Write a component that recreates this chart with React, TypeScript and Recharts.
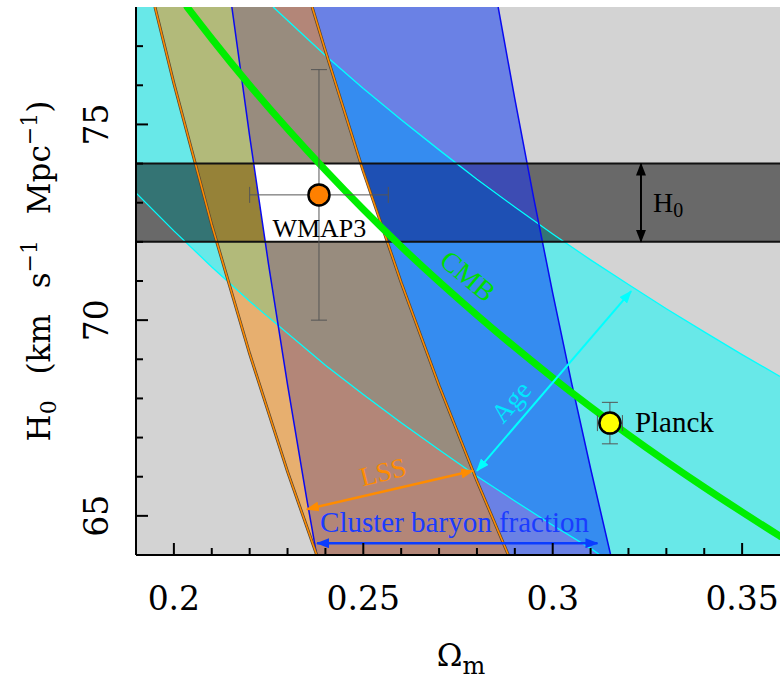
import React from 'react';
import { ComposedChart, Area, Line, Scatter, XAxis, YAxis, ErrorBar } from 'recharts';

document.body.style.margin = '0';

// axis ticks
const xTicks = [0.2, 0.21, 0.22, 0.23, 0.24, 0.25, 0.26, 0.27, 0.28, 0.29, 0.3, 0.31, 0.32, 0.33, 0.34, 0.35];
const xMajorTicks = [0.2, 0.25, 0.3, 0.35];
const yTicks = [65, 66, 67, 68, 69, 70, 71, 72, 73, 74, 75, 76, 77];
const yMajorTicks = [65, 70, 75];

// whole plot background
const plotBox = [
  { x: 0.19, r: [64, 78] },
  { x: 0.36, r: [64, 78] },
];

// age constraint (cyan)
const ageLower = [
  { x: 0.19, h: 73.25 }, { x: 0.2, h: 72.28 }, { x: 0.21, h: 71.36 }, { x: 0.22, h: 70.48 },
  { x: 0.24, h: 68.85 }, { x: 0.25, h: 68.1 }, { x: 0.26, h: 67.38 }, { x: 0.27, h: 66.69 },
  { x: 0.28, h: 66.01 }, { x: 0.29, h: 65.38 }, { x: 0.3, h: 64.76 }, { x: 0.31, h: 64.17 },
  { x: 0.3125, h: 64.0 },
];
const ageUpper = [
  { x: 0.2262, h: 78 }, { x: 0.24, h: 76.76 }, { x: 0.25, h: 75.92 }, { x: 0.26, h: 75.12 },
  { x: 0.27, h: 74.35 }, { x: 0.28, h: 73.6 }, { x: 0.29, h: 72.89 }, { x: 0.3, h: 72.2 },
  { x: 0.31, h: 71.54 }, { x: 0.32, h: 70.91 }, { x: 0.33, h: 70.29 }, { x: 0.34, h: 69.7 },
  { x: 0.35, h: 69.12 }, { x: 0.36, h: 68.56 },
];
const ageBand = [
  { x: 0.19, r: [73.25, 78] }, { x: 0.2, r: [72.28, 78] }, { x: 0.21, r: [71.36, 78] },
  { x: 0.22, r: [70.48, 78] }, { x: 0.2262, r: [69.96, 78] }, { x: 0.24, r: [68.85, 76.76] },
  { x: 0.25, r: [68.1, 75.92] }, { x: 0.26, r: [67.38, 75.12] }, { x: 0.27, r: [66.69, 74.35] },
  { x: 0.28, r: [66.01, 73.6] }, { x: 0.29, r: [65.38, 72.89] }, { x: 0.3, r: [64.76, 72.2] },
  { x: 0.31, r: [64.17, 71.54] }, { x: 0.3125, r: [64, 71.38] }, { x: 0.32, r: [64, 70.91] },
  { x: 0.33, r: [64, 70.29] }, { x: 0.34, r: [64, 69.7] }, { x: 0.35, r: [64, 69.12] },
  { x: 0.36, r: [64, 68.56] },
];

// cluster baryon fraction (blue)
const clusterLeft = [
  { x: 0.2153, h: 78 }, { x: 0.22, h: 74.7 }, { x: 0.225, h: 71.42 }, { x: 0.23, h: 68.35 },
  { x: 0.235, h: 65.47 }, { x: 0.2377, h: 64 },
];
const clusterRight = [
  { x: 0.2856, h: 78 }, { x: 0.29, h: 75.65 }, { x: 0.295, h: 73.11 }, { x: 0.3, h: 70.69 },
  { x: 0.305, h: 68.39 }, { x: 0.31, h: 66.21 }, { x: 0.3153, h: 64 },
];
const clusterBand = [
  { x: 0.2153, r: [78, 78] }, { x: 0.22, r: [74.7, 78] }, { x: 0.225, r: [71.42, 78] },
  { x: 0.23, r: [68.35, 78] }, { x: 0.235, r: [65.47, 78] }, { x: 0.2377, r: [64, 78] },
  { x: 0.2856, r: [64, 78] }, { x: 0.29, r: [64, 75.65] }, { x: 0.295, r: [64, 73.11] },
  { x: 0.3, r: [64, 70.69] }, { x: 0.305, r: [64, 68.39] }, { x: 0.31, r: [64, 66.21] },
  { x: 0.3153, r: [64, 64] },
];

// large scale structure (orange)
const lssLeft = [
  { x: 0.195, h: 78 }, { x: 0.2, h: 76.05 }, { x: 0.21, h: 72.43 }, { x: 0.22, h: 69.14 },
  { x: 0.23, h: 66.13 }, { x: 0.2377, h: 64 },
];
const lssRight = [
  { x: 0.2365, h: 78 }, { x: 0.24, h: 76.88 }, { x: 0.25, h: 73.8 }, { x: 0.26, h: 70.96 },
  { x: 0.27, h: 68.33 }, { x: 0.28, h: 65.89 }, { x: 0.2883, h: 64 },
];
const lssBand = [
  { x: 0.195, r: [78, 78] }, { x: 0.2, r: [76.05, 78] }, { x: 0.21, r: [72.43, 78] },
  { x: 0.22, r: [69.14, 78] }, { x: 0.23, r: [66.13, 78] }, { x: 0.2365, r: [64.31, 78] },
  { x: 0.2377, r: [64, 77.62] }, { x: 0.24, r: [64, 76.88] }, { x: 0.25, r: [64, 73.8] },
  { x: 0.26, r: [64, 70.96] }, { x: 0.27, r: [64, 68.33] }, { x: 0.28, r: [64, 65.89] },
  { x: 0.2883, r: [64, 64] },
];

// H0 band
const h0Band = [
  { x: 0.19, r: [72, 74] },
  { x: 0.36, r: [72, 74] },
];
const h0Top = [{ x: 0.19, h: 74 }, { x: 0.36, h: 74 }];
const h0Bottom = [{ x: 0.19, h: 72 }, { x: 0.36, h: 72 }];
const h0Olive = [
  { x: 0.2055, r: [74, 74] }, { x: 0.2113, r: [72, 74] }, { x: 0.221, r: [72, 74] }, { x: 0.2241, r: [72, 72] },
];
const h0White = [
  { x: 0.221, r: [74, 74] }, { x: 0.2241, r: [72, 74] }, { x: 0.2493, r: [72, 74] }, { x: 0.2563, r: [72, 72] },
];
const h0Blue = [
  { x: 0.2493, r: [74, 74] }, { x: 0.2563, r: [72, 74] }, { x: 0.2747, r: [72, 74] },
  { x: 0.2964, r: [72, 72.45] }, { x: 0.2973, r: [72, 72] },
];
const h0Violet = [
  { x: 0.2747, r: [74, 74] }, { x: 0.2932, r: [72.68, 74] }, { x: 0.2964, r: [72.45, 72.45] },
];

// CMB degeneracy
const cmbLine = [
  { x: 0.2035, h: 78 }, { x: 0.21, h: 77.19 }, { x: 0.22, h: 76.0 }, { x: 0.24, h: 73.83 },
  { x: 0.26, h: 71.88 }, { x: 0.28, h: 70.13 }, { x: 0.3, h: 68.53 }, { x: 0.32, h: 67.07 },
  { x: 0.34, h: 65.73 }, { x: 0.36, h: 64.48 },
];

// measurements
const wmap3 = [{ x: 0.2383, y: 73.2, ex: 0.0183, ey: 3.2 }];
const planck = [{ x: 0.3151, y: 67.37, ex: 0.0033, ey: 0.53 }];

// arrows
const h0Arrow = [{ x: 0.3233, h: 74 }, { x: 0.3233, h: 72 }];
const ageArrow = [{ x: 0.28, h: 66.15 }, { x: 0.3207, h: 70.74 }];
const lssArrow = [{ x: 0.2351, h: 65.17 }, { x: 0.279, h: 66.15 }];
const clusterArrow = [{ x: 0.2378, h: 64.3 }, { x: 0.3118, h: 64.3 }];

// annotations
const labels = [
  { x: 0.2384, y: 72.12, text: 'WMAP3', kind: 'wmap' },
  { x: 0.3217, y: 67.14, text: 'Planck', kind: 'planck' },
  { x: 0.3265, y: 72.76, text: 'H', kind: 'h0' },
  { x: 0.2776, y: 71.13, text: 'CMB', kind: 'cmb' },
  { x: 0.289, y: 67.91, text: 'Age', kind: 'age' },
  { x: 0.2552, y: 66.12, text: 'LSS', kind: 'lss' },
  { x: 0.2386, y: 64.59, text: 'Cluster baryon fraction', kind: 'cluster' },
];

const SERIF = '"Liberation Serif", "Times New Roman", serif';
const SCHOOL = '"DejaVu Serif", serif';

const labelStyles: Record<string, any> = {
  wmap: { fill: '#000', size: 26, anchor: 'middle', rotate: 0 },
  planck: { fill: '#000', size: 29, anchor: 'start', rotate: 0 },
  h0: { fill: '#000', size: 28, anchor: 'start', rotate: 0, sub: '0' },
  cmb: { fill: '#00dd00', size: 28, anchor: 'middle', rotate: 40, central: true },
  age: { fill: '#00e8ff', size: 27, anchor: 'middle', rotate: -49, central: true },
  lss: { fill: '#ff8c00', size: 27, anchor: 'middle', rotate: -14, central: true },
  cluster: { fill: '#1a3cff', size: 29, anchor: 'start', rotate: 0 },
};

const isMajor = (v: number, majors: number[]) => majors.some((m) => Math.abs(m - v) < 1e-6);
const tickFont = { fontFamily: SCHOOL, fontSize: 33, fill: '#000' };

const BottomTick = ({ x, y, payload }: any) => {
  const major = isMajor(payload.value, xMajorTicks);
  return (
    <g>
      <line x1={x} x2={x} y1={y} y2={y - (major ? 12 : 7)} stroke="#000" strokeWidth={2} />
      {major && (
        <text x={x} y={y + 55} textAnchor="middle" {...tickFont}>
          {String(payload.value)}
        </text>
      )}
    </g>
  );
};

const TopTick = ({ x, y, payload }: any) => {
  const major = isMajor(payload.value, xMajorTicks);
  return <line x1={x} x2={x} y1={y} y2={y + (major ? 12 : 7)} stroke="#000" strokeWidth={2} />;
};

const LeftTick = ({ x, y, payload }: any) => {
  const major = isMajor(payload.value, yMajorTicks);
  return (
    <g>
      <line x1={x} x2={x + (major ? 12 : 7)} y1={y} y2={y} stroke="#000" strokeWidth={2} />
      {major && (
        <text x={x - 28} y={y} textAnchor="middle" transform={`rotate(-90 ${x - 28} ${y})`} {...tickFont}>
          {String(payload.value)}
        </text>
      )}
    </g>
  );
};

const RightTick = ({ x, y, payload }: any) => {
  const major = isMajor(payload.value, yMajorTicks);
  return <line x1={x} x2={x - (major ? 12 : 7)} y1={y} y2={y} stroke="#000" strokeWidth={2} />;
};

const LabelShape = ({ cx, cy, payload }: any) => {
  const s = labelStyles[payload.kind];
  return (
    <text
      x={cx}
      y={cy}
      fill={s.fill}
      fontSize={s.size}
      fontFamily={SERIF}
      textAnchor={s.anchor}
      dominantBaseline={s.central ? 'central' : undefined}
      transform={s.rotate ? `rotate(${s.rotate} ${cx} ${cy})` : undefined}
    >
      {payload.text}
      {s.sub && (
        <tspan fontSize={20} dy={5}>
          {s.sub}
        </tspan>
      )}
    </text>
  );
};

const pointShape = (fill: string) => ({ cx, cy }: any) => (
  <circle cx={cx} cy={cy} r={10.5} fill={fill} stroke="#000" strokeWidth={2.5} />
);

const band = (data: any[], fill: string, opacity = 1) => (
  <Area
    data={data}
    dataKey="r"
    type="linear"
    stroke="none"
    fill={fill}
    fillOpacity={opacity}
    dot={false}
    activeDot={false}
    isAnimationActive={false}
  />
);

const edge = (data: any[], stroke: string, width: number, extra: any = {}) => (
  <Line
    data={data}
    dataKey="h"
    type="linear"
    stroke={stroke}
    strokeWidth={width}
    dot={false}
    activeDot={false}
    isAnimationActive={false}
    {...extra}
  />
);

const Marker = ({ id, color }: { id: string; color: string }) => (
  <marker
    id={id}
    viewBox="0 0 13 10"
    refX={12}
    refY={5}
    markerWidth={13}
    markerHeight={10}
    markerUnits="userSpaceOnUse"
    orient="auto-start-reverse"
  >
    <path d="M0,0 L13,5 L0,10 z" fill={color} />
  </marker>
);

export default function App() {
  return (
    <div style={{ width: 781, height: 679, position: 'relative', background: '#fff' }}>
      <svg width={0} height={0} style={{ position: 'absolute' }}>
        <defs>
          <Marker id="ah-black" color="#000" />
          <Marker id="ah-cyan" color="#00ffff" />
          <Marker id="ah-orange" color="#ff8c00" />
          <Marker id="ah-blue" color="#0a3cff" />
        </defs>
      </svg>
      <ComposedChart width={781} height={679} margin={{ top: 7, right: 1, bottom: 0, left: 0 }}>
        <XAxis
          dataKey="x"
          type="number"
          domain={[0.19, 0.36]}
          allowDataOverflow
          ticks={xTicks}
          interval={0}
          height={124}
          tickSize={0}
          tickMargin={0}
          tickLine={false}
          tick={BottomTick}
          axisLine={{ stroke: '#000', strokeWidth: 2 }}
        />
        <XAxis
          xAxisId="top"
          orientation="top"
          dataKey="x"
          type="number"
          domain={[0.19, 0.36]}
          allowDataOverflow
          ticks={xTicks}
          interval={0}
          height={0}
          tickSize={0}
          tickMargin={0}
          tickLine={false}
          tick={TopTick}
          axisLine={{ stroke: '#000', strokeWidth: 2 }}
        />
        <YAxis
          type="number"
          domain={[64, 78]}
          allowDataOverflow
          ticks={yTicks}
          interval={0}
          width={136}
          tickSize={0}
          tickMargin={0}
          tickLine={false}
          tick={LeftTick}
          axisLine={{ stroke: '#000', strokeWidth: 2 }}
          label={{
            content: () => (
              <text
                x={50}
                y={271}
                textAnchor="middle"
                transform="rotate(-90 50 271)"
                fontFamily={SCHOOL}
                fontSize={31}
                fill="#000"
                wordSpacing={16}
              >
                H
                <tspan fontSize={22} dy={6}>0</tspan>
                <tspan dy={-6}> (km s</tspan>
                <tspan fontSize={22} dy={-13}>−1</tspan>
                <tspan dy={13}> Mpc</tspan>
                <tspan fontSize={22} dy={-13}>−1</tspan>
                <tspan dy={13}>)</tspan>
              </text>
            ),
          }}
        />
        <YAxis
          yAxisId="right"
          orientation="right"
          type="number"
          domain={[64, 78]}
          allowDataOverflow
          ticks={yTicks}
          interval={0}
          width={0}
          tickSize={0}
          tickMargin={0}
          tickLine={false}
          tick={RightTick}
          axisLine={{ stroke: '#000', strokeWidth: 2 }}
        />

        {band(plotBox, '#d3d3d3')}
        {band(ageBand, '#68e8e8')}
        {band(clusterBand, '#0230f8', 0.5)}
        {band(lssBand, '#fc8c0c', 0.5)}
        {band(h0Band, '#000', 0.5)}
        {band(h0Olive, '#968238')}
        {band(h0White, '#ffffff')}
        {band(h0Blue, '#1e50b4')}
        {band(h0Violet, '#3d4cb3')}

        {edge(ageLower, '#00ffff', 1.3)}
        {edge(ageUpper, '#00ffff', 1.3)}
        {edge(clusterLeft, '#0a0af0', 1.5)}
        {edge(clusterRight, '#0a0af0', 1.5)}
        {edge(lssLeft, '#5a4630', 3)}
        {edge(lssRight, '#5a4630', 3)}
        {edge(lssLeft, '#ff8c00', 1.5)}
        {edge(lssRight, '#ff8c00', 1.5)}
        {edge(h0Top, '#111', 2)}
        {edge(h0Bottom, '#111', 2)}
        {edge(cmbLine, '#00ee00', 7, { type: 'monotone', strokeLinecap: 'round' })}

        {edge(h0Arrow, '#000', 2, { markerStart: 'url(#ah-black)', markerEnd: 'url(#ah-black)' })}
        {edge(ageArrow, '#00ffff', 2, { markerStart: 'url(#ah-cyan)', markerEnd: 'url(#ah-cyan)' })}
        {edge(lssArrow, '#ff8c00', 2.5, { markerStart: 'url(#ah-orange)', markerEnd: 'url(#ah-orange)' })}
        {edge(clusterArrow, '#0a3cff', 2.5, { markerStart: 'url(#ah-blue)', markerEnd: 'url(#ah-blue)' })}

        <Scatter data={wmap3} dataKey="y" shape={pointShape('#ff8000')} isAnimationActive={false}>
          <ErrorBar dataKey="ex" direction="x" width={8} stroke="#555" strokeWidth={1} />
          <ErrorBar dataKey="ey" direction="y" width={8} stroke="#555" strokeWidth={1} />
        </Scatter>
        <Scatter data={planck} dataKey="y" shape={pointShape('#ffff00')} isAnimationActive={false}>
          <ErrorBar dataKey="ex" direction="x" width={8} stroke="#555" strokeWidth={1} />
          <ErrorBar dataKey="ey" direction="y" width={8} stroke="#555" strokeWidth={1} />
        </Scatter>
        <Scatter data={labels} dataKey="y" shape={LabelShape} isAnimationActive={false} />
      </ComposedChart>
      <svg
        width={781}
        height={679}
        style={{ position: 'absolute', left: 0, top: 0, pointerEvents: 'none' }}
      >
        <text x={461} y={666} textAnchor="middle" fontFamily={SCHOOL} fontSize={31} fill="#000">
          Ω
          <tspan fontSize={24} dy={8}>m</tspan>
        </text>
      </svg>
    </div>
  );
}
